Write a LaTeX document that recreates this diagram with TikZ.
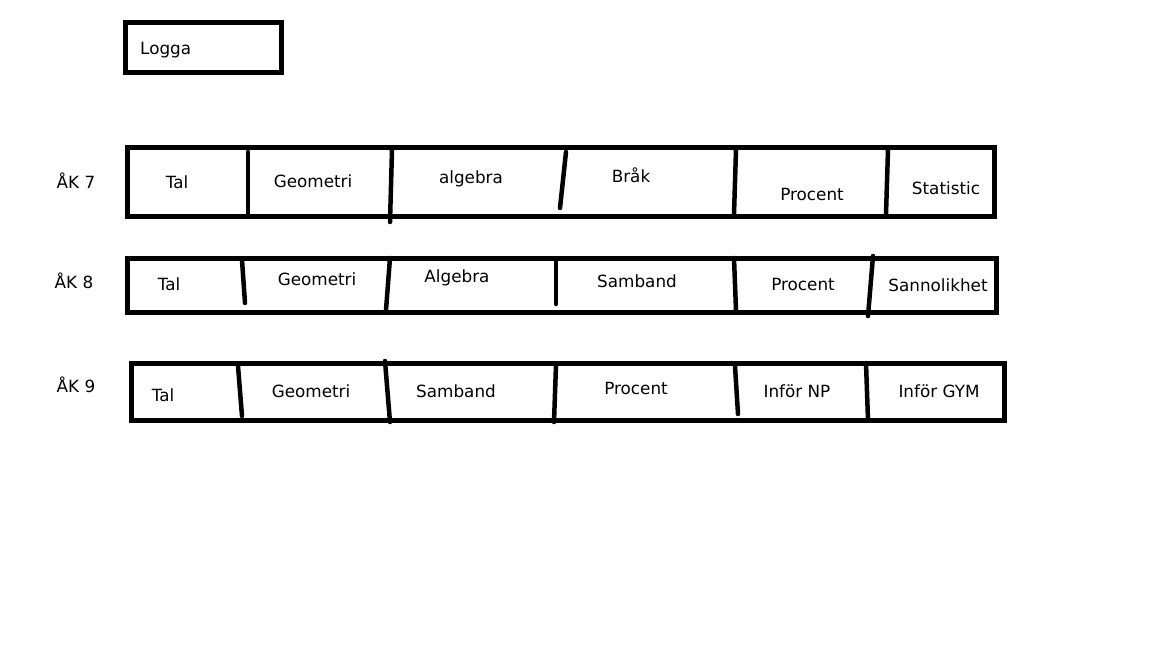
\documentclass[tikz,border=0pt]{standalone}
\usepackage{fontspec}
\setmainfont{DejaVu Sans}
\begin{document}
\begin{tikzpicture}[x=1pt, y=-1pt,
  box/.style={line width=5pt},
  divider/.style={line width=4.5pt, line cap=round},
  lbl/.style={font=\fontsize{16.8}{19}\selectfont, inner sep=0pt}]
\useasboundingbox (0,0) rectangle (1152,648);

% Logo box
\draw[box] (125, 22) rectangle (281, 72);
\node[lbl, anchor=west] (logga) at (140, 50) {Logga};

% AK 7
\node[lbl] (ak7) at (76, 181) {ÅK 7};
\draw[box] (127, 147) rectangle (994, 216);
\draw[divider] (248, 152) -- (248, 214);
\draw[divider] (392, 150) -- (390, 222);
\draw[divider] (566, 152) -- (560, 208);
\draw[divider] (736, 150) -- (734, 214);
\draw[divider] (888, 150) -- (886, 214);
\node[lbl] (tal7) at (177, 182) {Tal};
\node[lbl] (geo7) at (313, 181) {Geometri};
\node[lbl] (alg7) at (471, 179) {algebra};
\node[lbl] (brak7) at (631, 175) {Bråk};
\node[lbl] (proc7) at (812, 194) {Procent};
\node[lbl] (stat7) at (946, 188) {Statistic};

% AK 8
\node[lbl] (ak8) at (74, 281) {ÅK 8};
\draw[box] (127, 258) rectangle (996, 312);
\draw[divider] (242, 260) -- (245, 303);
\draw[divider] (390, 258) -- (386, 310);
\draw[divider] (556, 260) -- (556, 304);
\draw[divider] (734, 258) -- (736, 310);
\draw[divider] (873, 256) -- (868, 316);
\node[lbl] (tal8) at (169, 284) {Tal};
\node[lbl] (geo8) at (317, 279) {Geometri};
\node[lbl] (alg8) at (457, 278) {Algebra};
\node[lbl] (samb8) at (637, 281) {Samband};
\node[lbl] (proc8) at (803, 284) {Procent};
\node[lbl] (sann8) at (938, 285) {Sannolikhet};

% AK 9
\node[lbl] (ak9) at (76, 385) {ÅK 9};
\draw[box] (131, 363) rectangle (1004, 420);
\draw[divider] (238, 366) -- (242, 416);
\draw[divider] (385, 361) -- (390, 422);
\draw[divider] (556, 365) -- (554, 422);
\draw[divider] (735, 366) -- (738, 414);
\draw[divider] (866, 363) -- (868, 420);
\node[lbl] (tal9) at (163, 395) {Tal};
\node[lbl] (geo9) at (311, 391) {Geometri};
\node[lbl] (samb9) at (456, 391) {Samband};
\node[lbl] (proc9) at (636, 388) {Procent};
\node[lbl] (np9) at (797, 391) {Inför NP};
\node[lbl] (gym9) at (939, 391) {Inför GYM};
\end{tikzpicture}
\end{document}
